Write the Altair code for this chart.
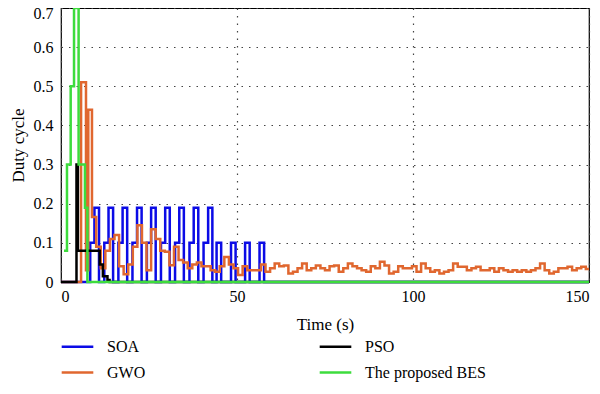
import altair as alt
import pandas as pd

SERIES = ["SOA", "GWO", "PSO", "The proposed BES"]
COLORS = ["#0b0be6", "#e0672f", "#000000", "#3ddc3d"]

# SOA (blue) step breakpoints
soa_t = [0, 8.3, 9.5, 10.8,
         12.3, 13.5, 14.8,
         16.3, 17.5, 18.8,
         20.3, 21.6, 22.9,
         24.4, 25.6, 26.9,
         28.4, 29.6, 30.9,
         32.4, 33.6, 34.9,
         36.5, 37.7, 39.0,
         40.5, 41.8, 43.0,
         44.2, 45.5, 48.3, 49.6, 52.3, 53.6, 56.4, 57.7, 150]
soa_v = [0, 0.1, 0.19, 0,
         0.1, 0.19, 0,
         0.1, 0.19, 0,
         0.1, 0.19, 0,
         0.1, 0.19, 0,
         0.1, 0.19, 0,
         0.1, 0.19, 0,
         0.1, 0.19, 0,
         0.1, 0.19, 0,
         0.1, 0, 0.1, 0, 0.1, 0, 0.1, 0, 0]

# PSO (black)
pso_t = [0, 4.4, 4.8, 11.0, 11.9, 13.2, 13.8, 150]
pso_v = [0, 0.3, 0.08, 0.045, 0.015, 0.005, 0, 0]

# BES (green)
bes_t = [0.85, 1.7, 2.75, 3.7, 5.0, 6.8, 7.5, 150]
bes_v = [0.08, 0.3, 0.5, 0.7, 0.3, 0.19, 0, 0]

# GWO (orange): early breakpoints, then samples every gwo_dt seconds
gwo_early_t = [0, 5.7, 7.1, 7.75, 8.8]
gwo_early_v = [0, 0.51, 0.03, 0.44, 0.166]
gwo_start = 10.0
gwo_dt = 1.3
gwo_late_v = [
    0.09, 0.035, 0.08, 0.11, 0.12, 0.04, 0.02, 0.045, 0.09, 0.145, 0.1, 0.03, 0.135, 0.11, 0.08,
    0.077, 0.043, 0.09, 0.056, 0.05, 0.035, 0.045, 0.05, 0.04, 0.04, 0.03, 0.026, 0.04, 0.064,
    0.045, 0.035, 0.018, 0.04, 0.03, 0.03, 0.03, 0.045,
    0.026, 0.035, 0.047, 0.04, 0.042, 0.022, 0.026, 0.035, 0.047, 0.03, 0.035, 0.042, 0.035,
    0.03, 0.04, 0.042, 0.026, 0.035, 0.047, 0.04, 0.035, 0.03, 0.026, 0.04, 0.035, 0.052,
    0.042, 0.022, 0.026, 0.04, 0.035, 0.035, 0.04, 0.026,
    0.047, 0.035, 0.026, 0.03, 0.022, 0.026, 0.03, 0.047, 0.039, 0.039, 0.03, 0.035, 0.039,
    0.03, 0.03, 0.035, 0.026, 0.035, 0.03, 0.026, 0.03, 0.026, 0.03, 0.026, 0.03, 0.035,
    0.047, 0.03, 0.022, 0.026, 0.035, 0.035, 0.039, 0.03, 0.035, 0.039, 0.033,
]

gwo_t = gwo_early_t + [gwo_start + i * gwo_dt for i in range(len(gwo_late_v))] + [150]
gwo_v = gwo_early_v + gwo_late_v + [gwo_late_v[-1]]

rows = []
for name, ts, vs in [("SOA", soa_t, soa_v), ("GWO", gwo_t, gwo_v),
                     ("PSO", pso_t, pso_v), ("The proposed BES", bes_t, bes_v)]:
    for i, (t, v) in enumerate(zip(ts, vs)):
        rows.append({"t": t, "v": v, "series": name, "i": i})
df = pd.DataFrame(rows)

FONT = "Liberation Serif"

color = alt.Color(
    "series:N",
    scale=alt.Scale(domain=SERIES, range=COLORS),
    legend=alt.Legend(
        title=None, orient="none", legendX=-1, legendY=321,
        columns=2, symbolType="stroke", symbolSize=1000, symbolStrokeWidth=2.5,
        labelFont=FONT, labelFontSize=16, labelOffset=12, columnPadding=168,
        rowPadding=0, labelColor="#000",
    ),
)

x = alt.X("t:Q", scale=alt.Scale(domain=[0, 150], nice=False),
          axis=alt.Axis(values=[0, 50, 100, 150], title="Time (s)", grid=True,
                        ticks=False, domain=False, labelPadding=6, titlePadding=12,
                        labelFont=FONT, titleFont=FONT,
                        labelFontSize=16, titleFontSize=17))
y = alt.Y("v:Q", scale=alt.Scale(domain=[0, 0.7], nice=False),
          axis=alt.Axis(values=[0, 0.1, 0.2, 0.3, 0.4, 0.5, 0.6, 0.7], format="~g",
                        title="Duty cycle", grid=True, ticks=False, domain=False,
                        labelPadding=8, titlePadding=6,
                        labelOffset={"condition": {"test": "datum.value >= 0.69", "value": 5},
                                     "value": 0},
                        labelFont=FONT, titleFont=FONT,
                        labelFontSize=16, titleFontSize=17))

layers = []
for name in ["SOA", "GWO", "PSO", "The proposed BES"]:
    layers.append(
        alt.Chart(df).transform_filter(alt.datum.series == name)
        .mark_line(interpolate="step-after", strokeWidth=2.5)
        .encode(x=x, y=y, color=color, order="i:Q")
    )

chart = alt.layer(*layers).properties(
    width=528, height=274,
    autosize=alt.AutoSizeParams(type="none"),
    padding={"left": 53, "top": 0, "right": 3, "bottom": 104},
    background="#ffffff",
).configure(font=FONT).configure_view(stroke="#000", strokeWidth=1.2).configure_axis(
    labelFont=FONT, titleFont=FONT, labelColor="#000", titleColor="#000",
    titleFontWeight="normal", gridColor="#444", gridDash=[1.5, 6], gridWidth=1.2,
)

chart.save("out.html", embed_options={"renderer": "svg", "actions": False})
